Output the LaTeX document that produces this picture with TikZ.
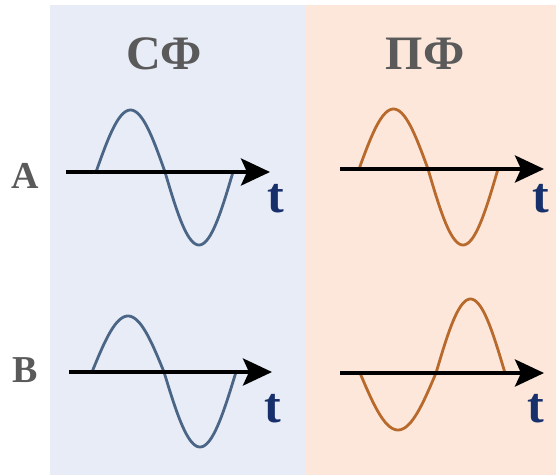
\documentclass[tikz,border=0pt]{standalone}
\usepackage{fontspec}
\setmainfont{Liberation Serif}
\usetikzlibrary{arrows.meta}

\definecolor{sfbg}{HTML}{E7ECF6}
\definecolor{pfbg}{HTML}{FDE7DA}
\definecolor{sfwave}{HTML}{4A6585}
\definecolor{pfwave}{HTML}{B8692C}
\definecolor{labgray}{HTML}{5A5A5A}
\definecolor{tnavy}{HTML}{17306B}

\tikzset{
  axis/.style={line width=4pt, -{Stealth[length=29pt, width=27pt, inset=6pt]}},
  head/.style={font=\fontsize{48}{50}\selectfont\bfseries, text=labgray},
  rowlab/.style={font=\fontsize{38}{40}\selectfont\bfseries, text=labgray},
  tlab/.style={font=\fontsize{50}{52}\selectfont\bfseries, text=tnavy},
  wave/.style={line width=2.8pt, line join=round}
}

% colour, start, middle, end, axis y, first lobe, second lobe
\newcommand\sinewave[7]{%
  \draw[wave, #1] plot[domain=0:180, samples=40] ({#2+(#3-#2)*\x/180}, {#5-(#6)*sin(\x)})
    -- plot[domain=0:180, samples=40] ({#3+(#4-#3)*\x/180}, {#5+(#7)*sin(\x)});}

\begin{document}
\begin{tikzpicture}[x=1pt, y=-1pt]
  \useasboundingbox (0,0) rectangle (556,475);
  \fill[sfbg] (50,5) rectangle (305,475);
  \fill[pfbg] (305,5) rectangle (556,475);

  \node[head] (sf) at (164,54) {СФ};
  \node[head] (pf) at (425,54) {ПФ};
  \node[rowlab] (rowA) at (25,176) {A};
  \node[rowlab] (rowB) at (25,370) {B};

  % waves
  \sinewave{sfwave}{96}{165}{233}{172}{62}{73}
  \sinewave{pfwave}{359}{428}{498}{169}{60}{76}
  \sinewave{sfwave}{92}{164}{236}{372}{56}{75}
  \sinewave{pfwave}{360}{436}{505}{373}{-57}{-74}

  % time axes
  \coordinate (sfA0) at (66,172);  \coordinate (sfA1) at (270,172);
  \coordinate (pfA0) at (340,169); \coordinate (pfA1) at (544,169);
  \coordinate (sfB0) at (69,372);  \coordinate (sfB1) at (272,372);
  \coordinate (pfB0) at (340,373); \coordinate (pfB1) at (544,373);
  \draw[axis] (sfA0) -- (sfA1);
  \draw[axis] (pfA0) -- (pfA1);
  \draw[axis] (sfB0) -- (sfB1);
  \draw[axis] (pfB0) -- (pfB1);

  \node[tlab] (tsfA) at (276,199) {t};
  \node[tlab] (tpfA) at (541,199) {t};
  \node[tlab] (tsfB) at (273,409) {t};
  \node[tlab] (tpfB) at (536,409) {t};
\end{tikzpicture}
\end{document}
